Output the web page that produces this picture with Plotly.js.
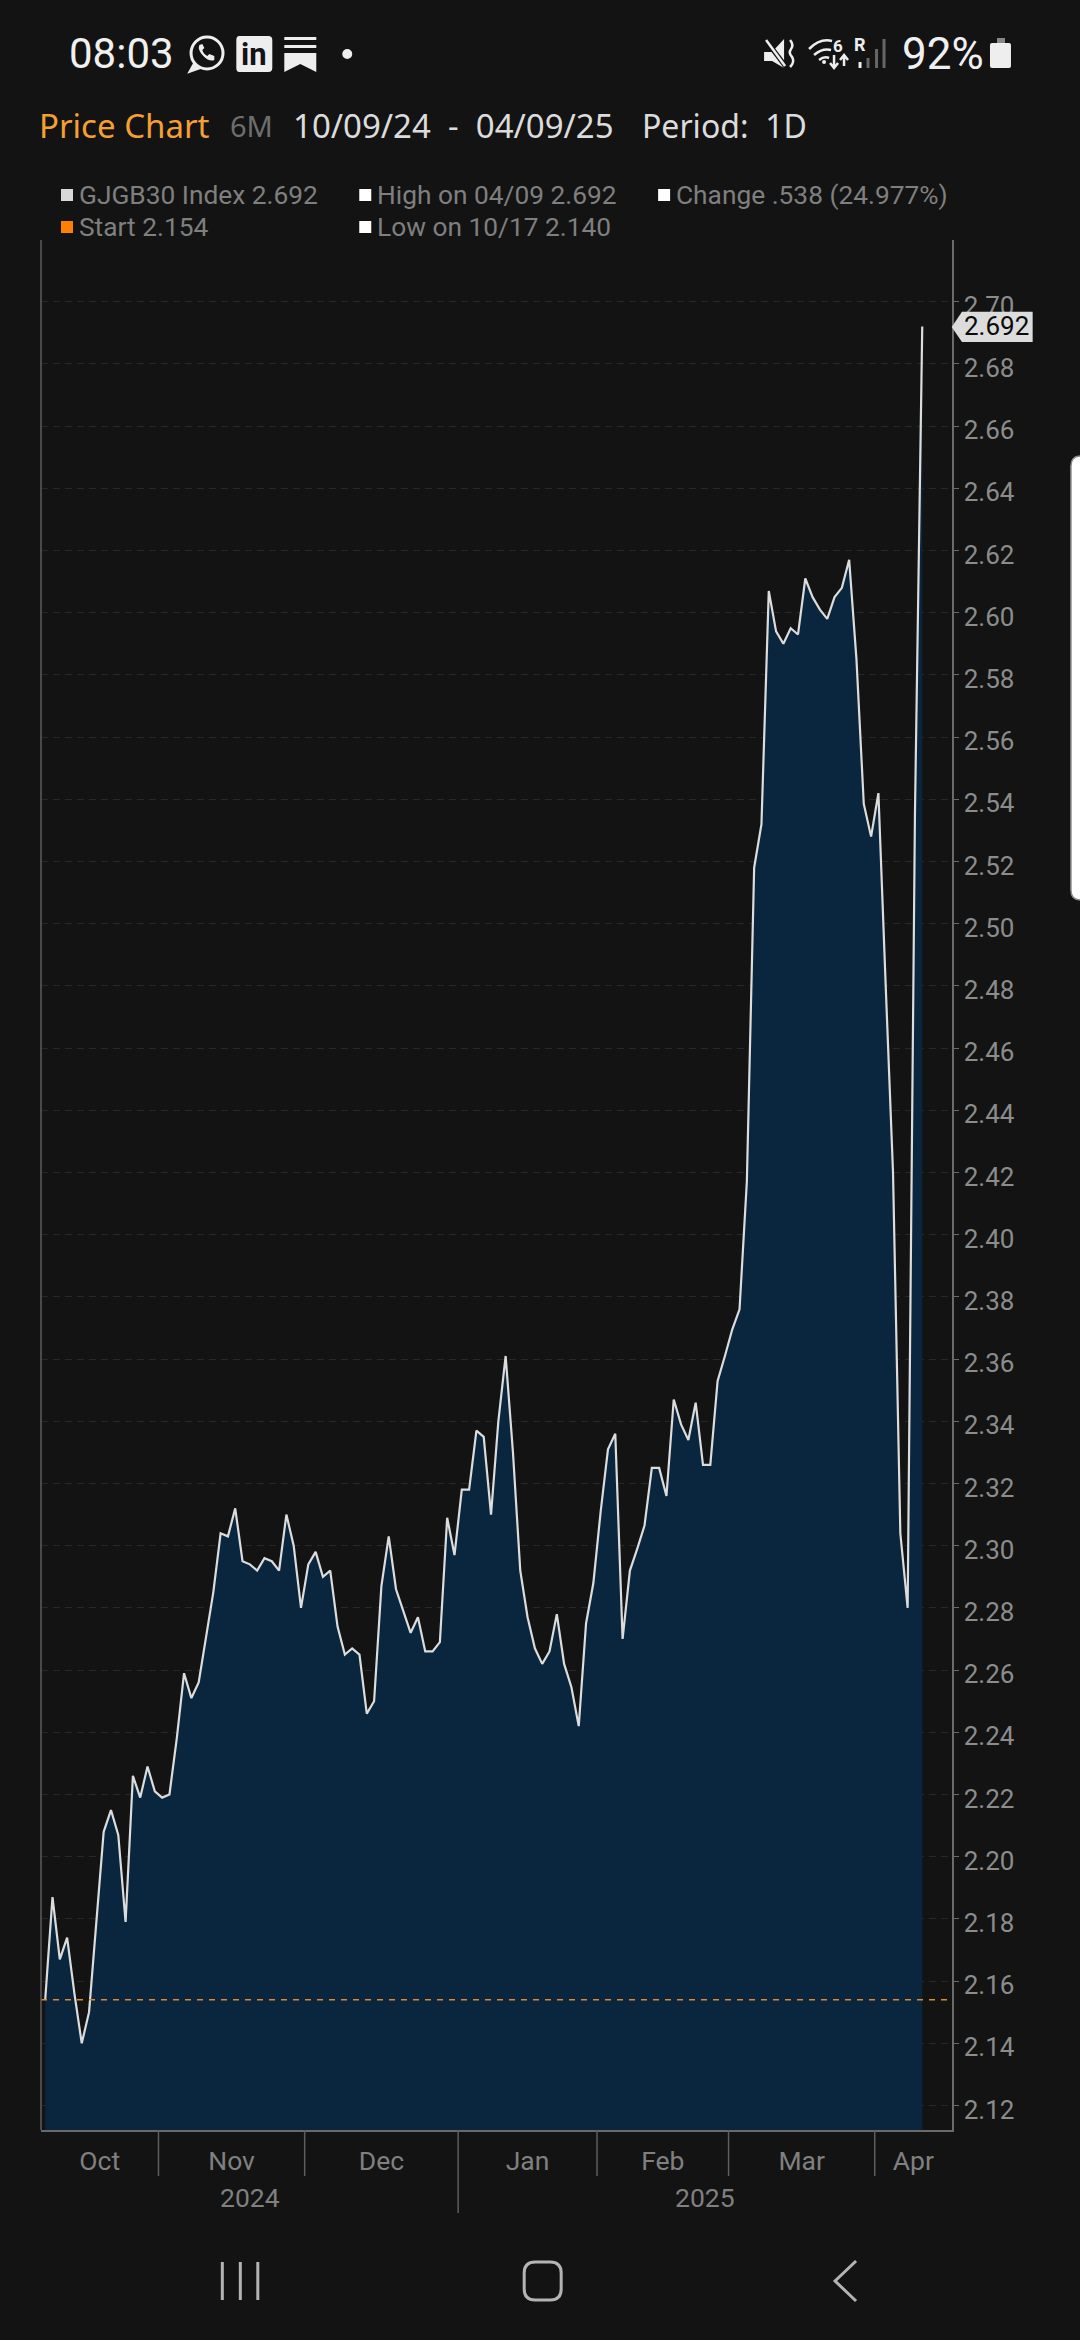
<!DOCTYPE html>
<html><head><meta charset="utf-8">
<script src="https://cdn.plot.ly/plotly-3.0.1.min.js"></script>
<style>html,body{margin:0;padding:0;background:#131313;overflow:hidden}#c{width:1080px;height:2340px}</style>
</head><body><div id="c"></div>
<script>
// ---- data ----
const yields = [2.154,2.187,2.167,2.174,2.156,2.140,2.150,2.178,2.208,2.215,2.207,2.179,2.226,2.219,2.229,2.221,2.219,2.220,2.238,2.259,
2.251,2.256,2.270,2.285,2.304,2.303,2.312,2.295,2.294,2.292,2.296,2.295,2.292,2.310,2.300,2.280,2.294,2.298,2.290,2.292,
2.274,2.265,2.267,2.265,2.246,2.250,2.287,2.303,2.286,2.279,2.272,2.277,2.266,2.266,2.269,2.309,2.297,2.318,2.318,2.337,
2.335,2.310,2.340,2.361,2.330,2.292,2.277,2.267,2.262,2.266,2.278,2.262,2.2545,2.242,2.275,2.288,2.311,2.331,2.336,2.270,
2.292,2.299,2.3065,2.325,2.325,2.316,2.347,2.339,2.334,2.346,2.326,2.326,2.353,2.361,2.3695,2.376,2.417,2.518,2.532,2.607,
2.594,2.590,2.595,2.593,2.611,2.605,2.601,2.598,2.605,2.608,2.617,2.585,2.5385,2.528,2.542,2.48,2.42,2.304,2.280,2.535,2.692];
const months = ["Oct","Nov","Dec","Jan","Feb","Mar","Apr"];
const monthBoundaries = [15.5,35.5,56.5,75.5,93.5,113.5];   // trading-day index at each month change
const years = ["2024","2025"];
const yearBoundary = 56.5;
const startLevel = 2.154;
const lastLevel = "2.692";
const legendRows = [
  ["GJGB30 Index 2.692","High on 04/09 2.692","Change .538 (24.977%)"],
  ["Start 2.154","Low on 10/17 2.140"]
];
const legendColors = [["#d8d8d8","#ffffff","#ffffff"],["#ff8000","#ffffff"]];

// ---- frame ----
const L=40.6,R=952,T=240,B=2130,W=R-L,H=B-T;
const xMin=-0.574,xMax=124.07,yMin=2.11212,yMax=2.71984;
const xs=yields.map((_,i)=>i);
const px=x=>(x-L)/W, py=y=>(B-y)/H;
const BG='#131313';
function path(d){let k=0;return d.replace(/-?\d+(\.\d+)?/g,m=>{const v=parseFloat(m);const r=(k%2==0)?px(v):py(v);k++;return r.toFixed(6);});}
const shapes=[],annotations=[];
function P(d,fill,stroke,w){shapes.push({type:'path',xref:'paper',yref:'paper',path:path(d),fillcolor:fill||'rgba(0,0,0,0)',line:{color:stroke||'rgba(0,0,0,0)',width:stroke?(w||2):0},layer:'above'});}
function C(cx,cy,r,fill,stroke,w){shapes.push({type:'circle',xref:'paper',yref:'paper',x0:px(cx-r),x1:px(cx+r),y0:py(cy+r),y1:py(cy-r),fillcolor:fill||'rgba(0,0,0,0)',line:{color:stroke||'rgba(0,0,0,0)',width:stroke?(w||2):0},layer:'above'});}
function Tx(t,x,y,size,color,family,anchor){annotations.push({text:t,xref:'paper',yref:'paper',x:px(x),y:py(y),xanchor:anchor||'left',yanchor:'middle',showarrow:false,borderpad:0,font:{size:size,color:color,family:family||'Roboto'}});}

// status bar
Tx('08:03',68,54,42,'#f0f0f0');
C(206.7,53,16,null,'#eeeeee',3);
P('M 194 63 L 189 72 L 200 68','#eeeeee','#eeeeee',2);
P('M 199 45 Q 197 50 203 56 Q 209 62 214 60 L 214 56 L 209 54 L 207 56 Q 203 54 202 50 L 204 48 L 202 44 Z','#eeeeee');
P('M 239 36 L 268 36 Q 272 36 272 40 L 272 68 Q 272 72 268 72 L 239 72 Q 236 72 236 68 L 236 40 Q 236 36 239 36 Z','#eeeeee');
Tx('<b>in</b>',254,55,31,BG,'Roboto','center');
P('M 284 37 L 316 37 L 316 40 L 284 40 Z','#eeeeee');
P('M 284 45 L 316 45 L 316 48 L 284 48 Z','#eeeeee');
P('M 284 53 L 316 53 L 316 72 L 300 64 L 284 72 Z','#eeeeee');
C(347,54,5,'#eeeeee');
P('M 764 52 L 772 52 L 784 39 L 784 68 L 772 61 L 764 61 Z','#eeeeee');
P('M 764 38 L 786 67',null,BG,5);
P('M 766 40 L 785 66',null,'#eeeeee',2.5);
P('M 790 40 Q 794 45 791 49 Q 788 53 792 57 Q 795 62 790 67',null,'#eeeeee',2.5);
P('M 809 49 Q 820 38 832 41',null,'#eeeeee',2.5);
P('M 814 55 Q 822 48 831 50',null,'#eeeeee',2.5);
P('M 819 60 Q 824 56 829 58',null,'#eeeeee',2.5);
C(824,62,2,'#eeeeee');
Tx('<b>6</b>',838,46,17,'#eeeeee','Roboto','center');
P('M 834 55 L 834 67 M 830 63 L 834 68 L 838 63',null,'#eeeeee',2.5);
P('M 844 66 L 844 56 M 840 60 L 844 55 L 848 60',null,'#eeeeee',2.5);
Tx('<b>R</b>',860,45,18,'#eeeeee','Roboto','center');
P('M 860 62 L 860 68',null,'#eeeeee',3);
P('M 868 58 L 868 68',null,'#666666',3);
P('M 876.5 49 L 876.5 68',null,'#666666',3);
P('M 884 39 L 884 68',null,'#666666',3);
Tx('92%',901,54,44,'#f0f0f0');
P('M 997 38 L 1005 38 L 1005 43 L 997 43 Z','#888888');
P('M 992 43 L 1009 43 Q 1011 43 1011 45 L 1011 66 Q 1011 68 1009 68 L 992 68 Q 990 68 990 66 L 990 45 Q 990 43 992 43 Z','#eeeeee');

// header
Tx('Price Chart',38,126,33,'#f5a033','Noto Sans');
Tx('6M',229,126,29,'#6e6e6e','Noto Sans');
Tx('10/09/24&nbsp;&nbsp;-&nbsp;&nbsp;04/09/25',292,126,33,'#dcdcdc','Noto Sans');
Tx('Period:&nbsp;&nbsp;1D',641,126,32,'#dcdcdc','Noto Sans');

// legend
const legendX=[60.6,359,658], legendY=[195,227];
legendRows.forEach((row,r)=>row.forEach((t,c)=>{
  const x=legendX[c],y=legendY[r];
  P(`M ${x} ${y-6} L ${x+12} ${y-6} L ${x+12} ${y+6} L ${x} ${y+6} Z`,legendColors[r][c]);
  Tx(t,x+17,y,26.3,'#7f7f7f');
}));

// month and year separators (drawn at axis positions)
monthBoundaries.forEach(m=>{
  shapes.push({type:'line',xref:'x',yref:'paper',x0:m,x1:m,y0:m===yearBoundary?py(2213):py(2176),y1:0,line:{color:'#5e5e5e',width:1.5},layer:'above'});
});
const yearCentres=[(xMin+yearBoundary)/2,(yearBoundary+xMax)/2];
years.forEach((t,i)=>annotations.push({text:t,xref:'x',yref:'paper',x:yearCentres[i],y:py(2197),xanchor:'center',yanchor:'middle',showarrow:false,borderpad:0,font:{size:26.5,color:'#808080',family:'Roboto'}}));

// left frame line
P(`M ${L} ${T} L ${L} ${B}`,null,'#5e5e5e',1.5);

// last-value tag
P('M 951.7 327 L 962 311.8 L 1032.7 311.8 L 1032.7 342 L 962 342 Z','#dcdcdc');
Tx(lastLevel,1030,326,26,'#0a0a0a','Roboto','right');

// side handle
P('M 1081 456 Q 1071 456 1071 466 L 1071 890 Q 1071 900 1081 900 Z','#ffffff','#8a8a8a',1.5);

// nav bar
P('M 222 2262 L 222 2300',null,'#b4b4b4',3);
P('M 240 2262 L 240 2300',null,'#b4b4b4',3);
P('M 257.5 2262 L 257.5 2300',null,'#b4b4b4',3);
P('M 535 2262 L 550 2262 Q 561 2262 561 2273 L 561 2289 Q 561 2300 550 2300 L 535 2300 Q 524 2300 524 2289 L 524 2273 Q 524 2262 535 2262 Z',null,'#b4b4b4',3);
P('M 856 2261 L 835 2281 L 856 2301',null,'#b4b4b4',3);

const edges=[xMin,...monthBoundaries,xMax];
const monthCentres=months.map((_,i)=>(edges[i]+edges[i+1])/2);

const traces=[
 {x:xs,y:yields,type:'scatter',mode:'lines',fill:'tozeroy',fillcolor:'rgba(10,38,65,0.94)',line:{color:'#dcdcdc',width:2.2},hoverinfo:'skip'},
 {x:[xMin,xMax],y:[startLevel,startLevel],type:'scatter',mode:'lines',line:{color:'#e08a2c',width:1.5,dash:'6px,6px'},hoverinfo:'skip'}
];
const layout={
 width:1080,height:2340,paper_bgcolor:BG,plot_bgcolor:BG,showlegend:false,hovermode:false,
 margin:{l:L,r:1080-R,t:T,b:2340-B,pad:0,autoexpand:false},
 font:{family:'Roboto',color:'#808080',size:25},
 xaxis:{range:[xMin,xMax],tickmode:'array',tickvals:monthCentres,ticktext:months,showgrid:false,zeroline:false,showline:true,linecolor:'#6a6a6a',linewidth:1.5,ticks:'outside',ticklen:7,tickcolor:'rgba(0,0,0,0)',tickfont:{family:'Roboto',size:26.5,color:'#808080'}},
 yaxis:{range:[yMin,yMax],side:'right',tick0:2.12,dtick:0.02,tickformat:'.2f',showgrid:true,gridcolor:'#272727',gridwidth:1,griddash:'7px,5px',zeroline:false,showline:true,linecolor:'#6a6a6a',linewidth:1.5,ticks:'outside',ticklen:5,tickcolor:'#6a6a6a',tickfont:{family:'Roboto',size:26,color:'#8c8c8c'}},
 shapes:shapes,annotations:annotations
};
Plotly.newPlot('c',traces,layout,{displayModeBar:false,staticPlot:true}).then(()=>{
  // the reference's value labels sit a few pixels below their gridlines
  document.querySelectorAll('g.ytick').forEach(g=>g.setAttribute('transform','translate(0,4)'));
});
</script></body></html>
